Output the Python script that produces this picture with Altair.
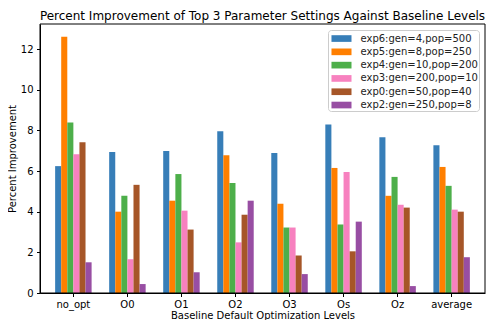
import altair as alt
import pandas as pd

levels = ["no_opt", "O0", "O1", "O2", "O3", "Os", "Oz", "average"]
series = ["exp6:gen=4,pop=500", "exp5:gen=8,pop=250", "exp4:gen=10,pop=200",
          "exp3:gen=200,pop=10", "exp0:gen=50,pop=40", "exp2:gen=250,pop=8"]
colors = ["#377eb8", "#ff7f00", "#4daf4a", "#f781bf", "#a65628", "#984ea3"]

exp6 = [6.24, 6.93, 6.98, 7.95, 6.88, 8.29, 7.66, 7.27]
exp5 = [12.60, 4.00, 4.54, 6.78, 4.39, 6.15, 4.78, 6.20]
exp4 = [8.39, 4.78, 5.85, 5.41, 3.22, 3.37, 5.71, 5.27]
exp3 = [6.83, 1.66, 4.05, 2.49, 3.22, 5.95, 4.34, 4.10]
exp0 = [7.41, 5.32, 3.12, 3.85, 1.85, 2.05, 4.20, 4.00]
exp2 = [1.51, 0.44, 1.02, 4.54, 0.93, 3.51, 0.34, 1.76]

values = [exp6, exp5, exp4, exp3, exp0, exp2]
rows = []
for s, vals in zip(series, values):
    for lv, v in zip(levels, vals):
        rows.append({"level": lv, "series": s, "value": v})
df = pd.DataFrame(rows)

font = "DejaVu Sans"
W, H = 445, 269

bars = alt.Chart(df).mark_bar().encode(
    x=alt.X("level:N", sort=levels, title="Baseline Default Optimization Levels",
            scale=alt.Scale(paddingInner=0.325, paddingOuter=0.28),
            axis=alt.Axis(labelAngle=0, tickSize=3.5, tickColor="black", domainColor="black",
                          labelColor="black", titleColor="black", labelFontSize=10,
                          titleFontSize=10, titleFontWeight="normal", labelFont=font,
                          titleFont=font, labelPadding=2.5, titlePadding=1.5)),
    xOffset=alt.XOffset("series:N", sort=series),
    y=alt.Y("value:Q", title="Percent Improvement",
            scale=alt.Scale(domain=[0, 13.23], nice=False),
            axis=alt.Axis(values=[0, 2, 4, 6, 8, 10, 12], grid=False, tickSize=3.5,
                          tickColor="black", domainColor="black", labelColor="black",
                          titleColor="black", labelFontSize=10, titleFontSize=10,
                          titleFontWeight="normal", labelFont=font, titleFont=font,
                          labelPadding=3.5, titlePadding=3)),
    color=alt.Color("series:N", sort=series, title=None,
                    scale=alt.Scale(domain=series, range=colors),
                    legend=alt.Legend(orient="top-right", offset=6,
                                      symbolType="M-0.67,-0.44h2.67v0.89h-2.67z", symbolSize=225,
                                      symbolStrokeWidth=0, labelFontSize=10, labelFont=font,
                                      labelColor="#222222", fillColor="white",
                                      strokeColor="#cccccc", cornerRadius=3, padding=1,
                                      rowPadding=0.3, symbolOpacity=1, labelOffset=16.5)),
)

frame = alt.Chart(pd.DataFrame({"a": [0]})).mark_rect(
    fillOpacity=0, stroke="black", strokeWidth=1
).encode(x=alt.value(0), x2=alt.value(W), y=alt.value(0), y2=alt.value(H))

chart = alt.layer(bars, frame).properties(
    width=W, height=H,
    title=alt.Title("Percent Improvement of Top 3 Parameter Settings Against Baseline Levels",
                    fontSize=12, font=font, fontWeight="normal", color="black", offset=1),
    autosize=alt.AutoSizeParams(type="none"),
    padding={"left": 32, "top": 16, "right": 1, "bottom": 27},
).configure(background="white").configure_view(stroke=None)

chart.save("out.html", embed_options={"renderer": "svg", "actions": False})
